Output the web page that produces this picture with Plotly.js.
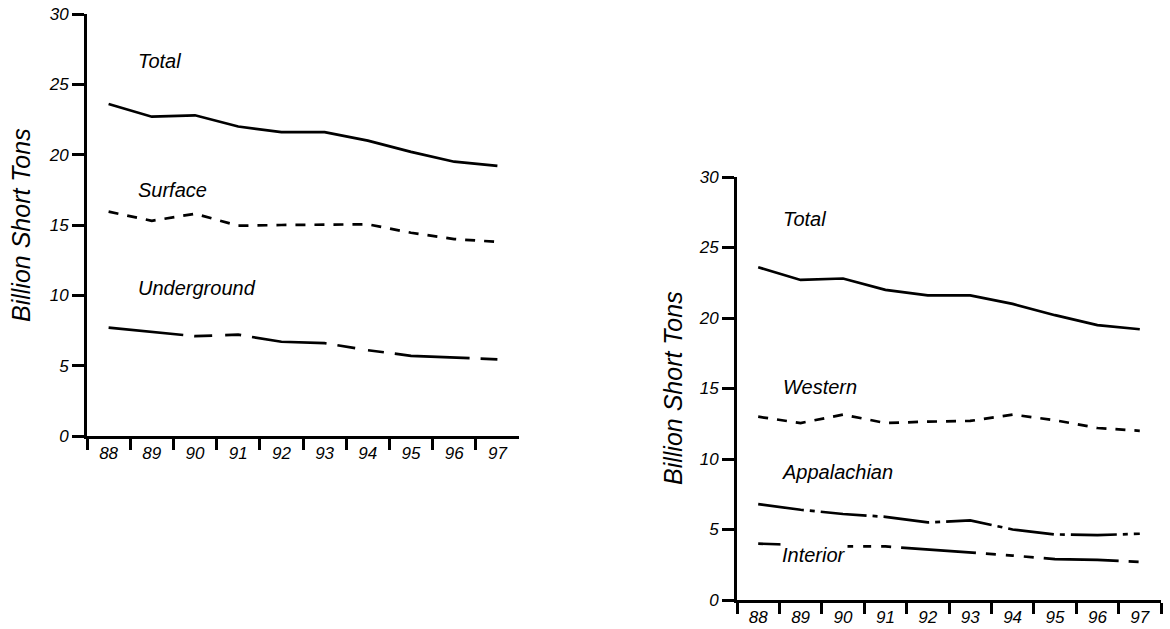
<!DOCTYPE html>
<html>
<head>
<meta charset="utf-8">
<script src="https://cdn.plot.ly/plotly-3.0.1.min.js"></script>
<style>html,body{margin:0;padding:0;background:#fff;}#chart{width:1170px;height:629px;}</style>
</head>
<body>
<div id="chart"></div>
<script>
// ---- data ----
const years = ['88','89','90','91','92','93','94','95','96','97'];
const total = [23.6, 22.7, 22.8, 22.0, 21.6, 21.6, 21.0, 20.2, 19.5, 19.2];
const surface = [15.95, 15.3, 15.8, 14.95, 15.0, 15.0, 15.05, 14.45, 14.0, 13.8];
const underground = [7.7, 7.4, 7.1, 7.2, 6.7, 6.6, 6.1, 5.7, 5.55, 5.45];
const western = [13.0, 12.55, 13.15, 12.55, 12.65, 12.7, 13.15, 12.75, 12.2, 12.0];
const appalachian = [6.8, 6.4, 6.1, 5.9, 5.5, 5.65, 5.0, 4.65, 4.6, 4.7];
const interior = [4.0, 3.9, 3.8, 3.8, 3.6, 3.4, 3.15, 2.9, 2.85, 2.7];
const yTitle = 'Billion Short Tons';
const yTicks = [0, 5, 10, 15, 20, 25, 30];

// ---- layout helpers ----
const W = 1170, H = 629;
const px = x => x / W;
const py = y => 1 - y / H;
const FONT = 'Liberation Sans, Arial, sans-serif';
const LW = 2.7;

function line(y, dash, xa, ya) {
  return {x: years, y: y, type: 'scatter', mode: 'lines', xaxis: xa, yaxis: ya,
    line: {color: '#000', width: LW, dash: dash, shape: 'linear'}, hoverinfo: 'skip', showlegend: false};
}

const traces = [
  line(total, 'solid', 'x', 'y'),
  line(surface, '10px,9px', 'x', 'y'),
  line(underground, '75px,11px,18px,13px,16px,11px', 'x', 'y'),
  line(total, 'solid', 'x2', 'y2'),
  line(western, '10px,9px', 'x2', 'y2'),
  line(appalachian, '46px,6px,5px,6px', 'x2', 'y2'),
  line(interior, '75px,10px,10px,10px,8px,10px,10px,10px', 'x2', 'y2')
];

function xAxis(domain, anchor) {
  return {domain: domain, anchor: anchor, type: 'category', range: [-0.5, 9.5],
    tickson: 'boundaries', ticks: 'outside', ticklen: 11, tickwidth: 3, tickcolor: '#000',
    showline: true, linewidth: 3, linecolor: '#000', showgrid: false, zeroline: false,
    tickfont: {family: FONT, size: 17, color: '#000', style: 'italic'}, fixedrange: true};
}
function yAxis(domain, anchor) {
  return {domain: domain, anchor: anchor, range: [0, 30], tickvals: yTicks,
    ticks: 'outside', ticklen: 12, tickwidth: 3, tickcolor: '#000',
    showline: true, linewidth: 3, linecolor: '#000', showgrid: false, zeroline: false,
    tickfont: {family: FONT, size: 17, color: '#000', style: 'italic'}, fixedrange: true};
}

function label(text, x, y, bg) {
  return {text: text, xref: 'paper', yref: 'paper', x: px(x), y: py(y), xanchor: 'left', yanchor: 'middle',
    showarrow: false, font: {family: FONT, size: 20, color: '#000', style: 'italic'},
    bgcolor: bg ? '#fff' : 'rgba(0,0,0,0)', borderpad: 1};
}
function title(x, y) {
  return {text: yTitle, xref: 'paper', yref: 'paper', x: px(x), y: py(y), xanchor: 'center', yanchor: 'middle',
    textangle: -90, showarrow: false, font: {family: FONT, size: 25, color: '#000', style: 'italic'}};
}

const layout = {
  width: W, height: H, margin: {l: 0, r: 0, t: 0, b: 0},
  paper_bgcolor: '#fff', plot_bgcolor: '#fff', showlegend: false,
  xaxis: xAxis([px(87), px(519)], 'y'),
  yaxis: yAxis([py(436), py(14)], 'x'),
  xaxis2: xAxis([px(737), px(1161)], 'y2'),
  yaxis2: yAxis([py(600), py(177)], 'x2'),
  annotations: [
    title(21, 225),
    title(673, 388),
    label('Total', 136, 61),
    label('Surface', 136, 190),
    label('Underground', 136, 288),
    label('Total', 781, 219),
    label('Western', 781, 387),
    label('Appalachian', 780, 472),
    label('Interior', 780, 555, true)
  ]
};

Plotly.newPlot('chart', traces, layout, {staticPlot: true, displayModeBar: false});
</script>
</body>
</html>
